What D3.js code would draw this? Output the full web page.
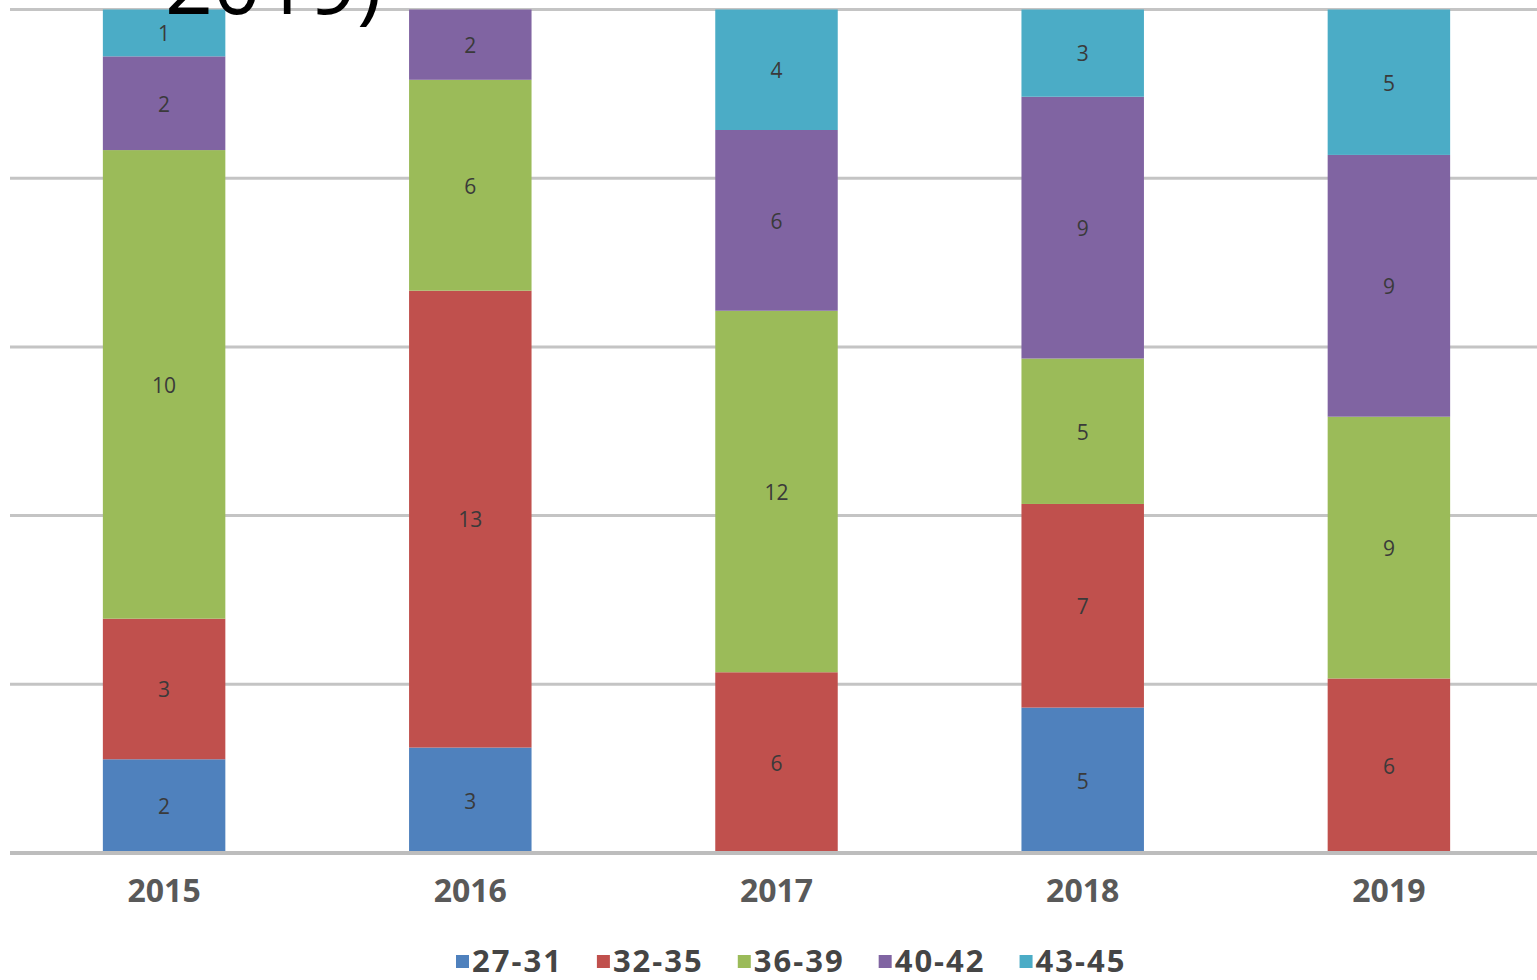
<!DOCTYPE html>
<html>
<head>
<meta charset="utf-8">
<script src="https://cdn.jsdelivr.net/npm/d3@7"></script>
<style>
  html, body { margin: 0; padding: 0; background: #fff; overflow: hidden; }
  svg { display: block; }
</style>
</head>
<body>
<svg id="chart" width="1537" height="980"></svg>
<script>
// ---- data ----
const years = ["2015", "2016", "2017", "2018", "2019"];
const ageGroups = ["27-31", "32-35", "36-39", "40-42", "43-45"];
const age27_31 = [2, 3, 0, 5, 0];
const age32_35 = [3, 13, 6, 7, 6];
const age36_39 = [10, 6, 12, 5, 9];
const age40_42 = [2, 2, 6, 9, 9];
const age43_45 = [1, 0, 4, 3, 5];
const gridTicks = [0, 0.2, 0.4, 0.6, 0.8, 1];
const titleFragment = "2019)";
const colors = ["#4f81bd", "#c0504d", "#9bbb59", "#8064a2", "#4bacc6"];

const seriesValues = [age27_31, age32_35, age36_39, age40_42, age43_45];
const table = years.map((y, i) => {
  const row = { year: y };
  ageGroups.forEach((g, k) => { row[g] = seriesValues[k][i]; });
  return row;
});

const svg = d3.select("#chart");
const font = "'Open Sans', 'DejaVu Sans', sans-serif";

const x = d3.scaleBand().domain(years).range([11, 1542]).paddingInner(0.6).paddingOuter(0.3);
const y = d3.scaleLinear().domain([0, 1]).range([853, 9.5]);

const stack = d3.stack().keys(ageGroups).offset(d3.stackOffsetExpand);
const stacked = stack(table);

// gridlines
svg.append("g").selectAll("line").data(gridTicks.filter(t => t > 0)).join("line")
  .attr("x1", 10).attr("x2", 1542)
  .attr("y1", d => y(d)).attr("y2", d => y(d))
  .attr("stroke", "#c4c4c4").attr("stroke-width", 3);

// bars
const layers = svg.append("g").selectAll("g").data(stacked).join("g")
  .attr("fill", (d, i) => colors[i]);
layers.selectAll("rect").data(d => d).join("rect")
  .attr("x", d => x(d.data.year))
  .attr("width", x.bandwidth())
  .attr("y", d => y(d[1]))
  .attr("height", d => Math.max(0, y(d[0]) - y(d[1])));

// data labels
stacked.forEach((layer, i) => {
  svg.append("g").selectAll("text").data(layer.filter(d => d.data[layer.key] > 0)).join("text")
    .attr("x", d => x(d.data.year) + x.bandwidth() / 2)
    .attr("y", d => (y(d[0]) + y(d[1])) / 2 + 1)
    .attr("dy", "0.35em")
    .attr("text-anchor", "middle")
    .attr("font-family", font).attr("font-size", 21)
    .attr("fill", "#3a3a3a")
    .text(d => d.data[layer.key]);
});

// baseline axis
svg.append("line")
  .attr("x1", 10).attr("x2", 1542)
  .attr("y1", y(0)).attr("y2", y(0))
  .attr("stroke", "#bdbdbd").attr("stroke-width", 4);

// x axis labels
const xAxis = d3.axisBottom(x).tickSize(0).tickPadding(0);
const xg = svg.append("g").call(xAxis);
xg.select(".domain").remove();
xg.selectAll("text")
  .attr("y", 902).attr("dy", 0)
  .attr("font-family", font).attr("font-size", 32).attr("font-weight", "bold")
  .attr("fill", "#595959");

// legend
const legend = svg.append("g");
let lx = 456;
ageGroups.forEach((g, i) => {
  legend.append("rect").attr("x", lx).attr("y", 955).attr("width", 13).attr("height", 13)
    .attr("fill", colors[i]);
  const t = legend.append("text").attr("x", lx + 16).attr("y", 972)
    .attr("font-family", font).attr("font-size", 31).attr("font-weight", "bold")
    .attr("letter-spacing", 2)
    .attr("fill", "#454545").text(g);
  lx += 16 + t.node().getComputedTextLength() + 34;
});

// partially visible title
svg.append("text").attr("x", 165).attr("y", 14)
  .attr("font-family", font).attr("font-size", 84)
  .attr("fill", "#000").text(titleFragment);
</script>
</body>
</html>
